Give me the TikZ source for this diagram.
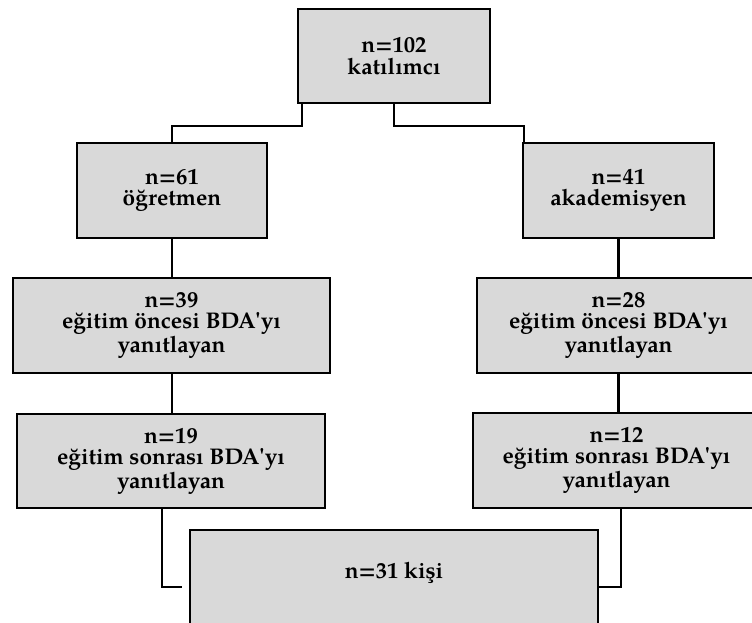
\documentclass[tikz,border=0pt]{standalone}
\usepackage{fontspec}
\setmainfont{TeX Gyre Pagella}[Ligatures=TeXOff]
\usetikzlibrary{calc}
\definecolor{boxgray}{HTML}{D9D9D9}
\newcommand\fcbox[6]{\node[box, minimum width={(#4-#2)*0.75pt}, minimum height={(#5-#3)*0.75pt}] (#1) at ({(#2+#4)/2},{(#3+#5)/2}) {#6};}
\begin{document}
\begin{tikzpicture}[x=0.75pt,y=-0.75pt,
  box/.style={draw=black, line width=2.1pt, fill=boxgray, align=center,
    font=\fontsize{17}{16}\selectfont\bfseries, inner sep=0pt},
  lbl/.style={align=center, font=\fontsize{17}{16}\selectfont\bfseries, inner sep=0pt},
  conn/.style={line width=1.6pt, draw=black}]
\useasboundingbox (0,0) rectangle (752,623);
\clip (0,0) rectangle (752,623);
\fcbox{top}{298}{9}{490}{103}{n=102\\katılımcı}
\fcbox{b61}{77}{143}{267}{238}{n=61\\öğretmen}
\fcbox{b41}{523}{143}{714}{238}{n=41\\akademisyen}
\fcbox{b39}{13}{278}{330}{373}{n=39\\eğitim öncesi BDA'yı\\yanıtlayan}
\fcbox{b28}{477}{278}{760}{373}{n=28\\eğitim öncesi BDA'yı\\yanıtlayan}
\fcbox{b19}{17}{414}{325}{508}{n=19\\eğitim sonrası BDA'yı\\yanıtlayan}
\fcbox{b12}{473}{413}{760}{508}{n=12\\eğitim sonrası BDA'yı\\yanıtlayan}
\fcbox{bot}{190}{530}{598}{644}{}
\node[lbl] (botlabel) at (394,573) {n=31 kişi};
% connectors
\draw[conn] ($(top.south west)+(5,0)$) -- ++(0,22) -| (b61.north);
\draw[conn] ($(top.south west)+(97,0)$) -- ++(0,22) -| ($(b41.north west)+(2,0)$);
\draw[conn] (b61.south) -- (b61.south |- b39.north);
\draw[conn] (b61.south |- b39.south) -- (b61.south |- b19.north);
\draw[conn] (b41.south) -- (b41.south |- b28.north);
\draw[conn] (b41.south |- b28.south) -- (b41.south |- b12.north);
\draw[conn] ($(b19.south)+(-9,0)$) |- ($(bot.west)+(-7,0)$);
\draw[conn] ($(b12.south)+(4.5,0)$) |- (bot.east);
\end{tikzpicture}
\end{document}
